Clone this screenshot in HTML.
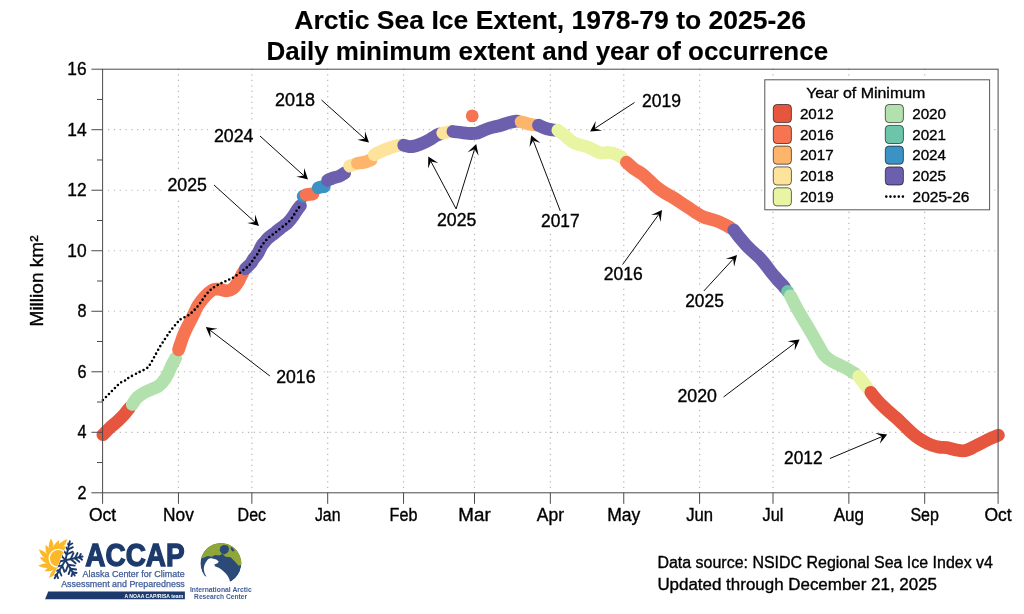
<!DOCTYPE html>
<html lang="en"><head><meta charset="utf-8"><title>Arctic Sea Ice Extent</title>
<style>html,body{margin:0;padding:0;background:#fff}svg{display:block}text{font-family:"Liberation Sans", sans-serif;fill:#000;stroke:#000;stroke-width:0.35px}.ttl text{stroke-width:0.12px}</style>
</head><body>
<svg width="1024" height="614" viewBox="0 0 1024 614">
<rect width="1024" height="614" fill="#fff"/>
<g class="ttl" font-weight="bold" font-size="25.5px" text-anchor="middle">
<text x="550.1" y="29.4" textLength="511.6" lengthAdjust="spacingAndGlyphs">Arctic Sea Ice Extent, 1978-79 to 2025-26</text>
<text x="547.3" y="60.4" textLength="561.6" lengthAdjust="spacingAndGlyphs">Daily minimum extent and year of occurrence</text>
</g>
<g stroke="#b6b6b6" stroke-width="1.2" fill="none">
<line x1="108" x2="998.1" y1="432.29" y2="432.29" stroke-dasharray="1.2 4.6307"/>
<line x1="108" x2="998.1" y1="371.77" y2="371.77" stroke-dasharray="1.2 4.6307"/>
<line x1="108" x2="998.1" y1="311.26" y2="311.26" stroke-dasharray="1.2 4.6307"/>
<line x1="108" x2="998.1" y1="250.74" y2="250.74" stroke-dasharray="1.2 4.6307"/>
<line x1="108" x2="998.1" y1="190.23" y2="190.23" stroke-dasharray="1.2 4.6307"/>
<line x1="108" x2="998.1" y1="129.71" y2="129.71" stroke-dasharray="1.2 4.6307"/>
<line x1="178.45" x2="178.45" y1="68.71" y2="492.8" stroke-dasharray="1.2 4.3"/>
<line x1="251.85" x2="251.85" y1="68.71" y2="492.8" stroke-dasharray="1.2 4.3"/>
<line x1="327.70" x2="327.70" y1="68.71" y2="492.8" stroke-dasharray="1.2 4.3"/>
<line x1="403.55" x2="403.55" y1="68.71" y2="492.8" stroke-dasharray="1.2 4.3"/>
<line x1="474.50" x2="474.50" y1="68.71" y2="492.8" stroke-dasharray="1.2 4.3"/>
<line x1="550.35" x2="550.35" y1="68.71" y2="492.8" stroke-dasharray="1.2 4.3"/>
<line x1="623.75" x2="623.75" y1="68.71" y2="492.8" stroke-dasharray="1.2 4.3"/>
<line x1="699.60" x2="699.60" y1="68.71" y2="492.8" stroke-dasharray="1.2 4.3"/>
<line x1="773.00" x2="773.00" y1="68.71" y2="492.8" stroke-dasharray="1.2 4.3"/>
<line x1="848.85" x2="848.85" y1="68.71" y2="492.8" stroke-dasharray="1.2 4.3"/>
<line x1="924.70" x2="924.70" y1="68.71" y2="492.8" stroke-dasharray="1.2 4.3"/>
</g>
<g fill="none" stroke-width="12.8" stroke-linecap="round" stroke-linejoin="round">
<path stroke="#E6563F" d="M102.9 434.7C104.1 433.6 107.3 430.2 109.8 427.9C112.2 425.6 115.2 423.4 117.6 421.1C120.0 418.8 122.4 416.4 124.4 414.2C126.4 412.0 128.7 408.8 129.6 407.7"/>
<path stroke="#B3E1AD" d="M132.3 404.4C133.1 403.3 135.2 399.6 137.1 397.6C139.0 395.7 141.4 394.2 144.0 392.7C146.6 391.2 150.5 389.9 152.8 388.8C155.1 387.7 156.5 387.3 158.0 386.3C159.5 385.3 160.8 384.2 162.0 382.8C163.2 381.4 164.4 379.9 165.5 378.2C166.6 376.5 167.6 374.7 168.5 372.8C169.4 370.9 170.2 368.7 171.0 366.9C171.8 365.1 172.7 363.5 173.5 362.0C174.3 360.5 175.2 358.8 175.6 358.1"/>
<path stroke="#F67452" d="M178.5 349.8C178.9 348.5 180.2 344.5 181.1 342.0C182.0 339.5 182.6 337.3 183.7 334.7C184.8 332.1 186.4 328.8 187.5 326.5C188.6 324.2 189.3 323.2 190.4 321.0C191.5 318.8 192.9 315.9 194.2 313.2C195.5 310.5 196.5 307.8 198.3 305.0C200.1 302.2 202.8 298.7 205.2 296.2C207.6 293.7 210.6 290.9 213.0 289.8C215.4 288.7 217.6 289.1 219.9 289.3C222.2 289.5 224.6 290.9 226.7 290.8C228.8 290.7 230.6 290.4 232.6 288.8C234.6 287.2 236.9 283.9 238.4 281.5C239.9 279.1 241.0 276.2 241.8 274.7C242.6 273.2 242.8 272.9 243.0 272.5"/>
<path stroke="#6C5FAE" d="M245.3 268.8C245.8 268.4 247.0 267.3 248.0 266.3C249.0 265.3 250.2 264.1 251.1 263.0C252.0 261.9 252.4 260.5 253.2 259.4C253.9 258.3 254.8 257.6 255.6 256.5C256.4 255.4 257.4 254.2 258.1 253.0C258.8 251.8 259.4 250.4 260.0 249.1C260.6 247.8 261.2 246.5 262.0 245.3C262.8 244.1 263.8 243.1 264.7 242.0C265.6 240.9 266.4 239.8 267.4 238.8C268.4 237.8 269.5 236.9 270.6 236.0C271.7 235.1 273.1 234.4 274.2 233.5C275.3 232.6 276.3 231.7 277.4 230.8C278.5 229.9 279.5 229.1 280.6 228.2C281.7 227.3 283.0 226.5 284.1 225.6C285.2 224.7 286.4 224.0 287.5 223.0C288.6 222.0 289.5 220.9 290.4 219.8C291.3 218.7 292.3 217.5 293.1 216.3C293.9 215.1 294.5 213.9 295.3 212.7C296.1 211.5 296.9 210.3 297.7 209.1C298.5 207.9 299.9 206.3 300.4 205.7"/>
<circle cx="303.2" cy="196.2" r="6.40" fill="#3A93C4" stroke="none"/>
<path stroke="#F67452" d="M306.1 194.6 L313.0 194.0"/>
<path stroke="#3A93C4" d="M318.3 187.8C318.8 187.7 320.0 187.2 321.0 187.0C322.0 186.8 323.7 186.7 324.2 186.6"/>
<path stroke="#6C5FAE" d="M327.6 180.3C328.5 179.9 331.1 178.6 333.0 177.9C334.9 177.2 336.9 177.2 338.9 176.4C340.8 175.6 343.7 173.6 344.7 173.0"/>
<path stroke="#FEE49A" d="M349.6 166.1 L352.5 165.0"/>
<path stroke="#FDB56C" d="M357.4 163.2C358.5 163.0 362.0 162.8 364.3 162.2C366.6 161.6 370.0 160.2 371.1 159.8"/>
<path stroke="#FEE49A" d="M374.3 154.8C374.9 154.5 376.6 153.5 378.0 152.8C379.4 152.1 380.6 151.5 382.7 150.6C384.8 149.7 388.2 148.4 390.5 147.6C392.8 146.8 394.7 146.1 396.4 145.7C398.1 145.3 399.8 145.3 400.5 145.2"/>
<path stroke="#6C5FAE" d="M403.7 145.2C404.6 145.4 407.1 146.6 409.1 146.7C411.1 146.8 413.6 146.3 415.9 145.7C418.2 145.1 420.5 144.2 422.8 143.2C425.1 142.2 427.5 141.0 429.6 139.8C431.7 138.6 433.9 136.9 435.5 135.9C437.1 134.9 438.8 134.3 439.5 134.0"/>
<path stroke="#FEE49A" d="M442.8 133.0 L450.0 131.8"/>
<path stroke="#6C5FAE" d="M453.0 131.5C454.3 131.7 458.7 132.2 460.9 132.5C463.1 132.8 464.5 133.0 466.0 133.2C467.5 133.4 467.9 133.5 469.8 133.5C471.7 133.5 475.0 133.7 477.6 133.0C480.2 132.3 482.8 130.6 485.4 129.6C488.0 128.6 490.6 127.8 493.2 127.1C495.8 126.4 498.5 125.9 501.1 125.2C503.7 124.5 506.6 123.4 508.9 122.7C511.2 122.0 513.3 121.5 514.7 121.3C516.1 121.0 517.0 121.2 517.5 121.2"/>
<circle cx="472.2" cy="115.9" r="6.40" fill="#F67452" stroke="none"/>
<path stroke="#FDB56C" d="M521.1 121.8C521.8 122.0 523.6 122.5 525.1 122.9C526.6 123.3 528.4 123.9 530.0 124.2C531.6 124.5 534.2 124.9 535.0 125.0"/>
<path stroke="#6C5FAE" d="M538.5 125.2C539.6 125.7 542.9 127.4 545.0 128.1C547.1 128.8 549.3 129.3 550.9 129.6C552.5 129.9 553.9 130.0 554.5 130.1"/>
<path stroke="#E9F5A2" d="M557.8 130.2C558.9 131.1 562.4 133.6 564.7 135.4C567.0 137.2 569.1 139.8 571.5 141.3C573.9 142.9 576.7 143.8 579.3 144.7C581.9 145.6 584.6 145.8 587.1 146.7C589.6 147.6 591.7 149.0 594.0 150.1C596.3 151.2 598.3 152.6 600.8 153.0C603.2 153.4 606.1 152.2 608.7 152.5C611.3 152.8 614.2 153.6 616.5 154.5C618.8 155.4 621.3 157.3 622.3 157.9"/>
<path stroke="#F67452" d="M626.4 162.2C627.6 163.3 631.2 166.7 633.7 168.6C636.2 170.5 638.9 171.6 641.5 173.5C644.1 175.4 646.7 178.0 649.3 180.3C651.9 182.7 654.5 185.5 657.1 187.6C659.7 189.7 662.4 191.4 665.0 193.0C667.6 194.6 670.2 195.9 672.8 197.4C675.3 198.9 677.8 200.5 680.3 202.2C682.8 203.9 685.5 205.7 688.1 207.4C690.7 209.1 693.0 210.9 695.6 212.5C698.2 214.1 700.9 215.9 703.5 217.0C706.1 218.1 708.7 218.5 711.3 219.3C713.9 220.1 716.7 220.8 719.1 221.8C721.5 222.8 724.0 224.2 725.9 225.2C727.8 226.2 729.7 227.4 730.5 227.8"/>
<path stroke="#6C5FAE" d="M733.8 230.1C734.6 231.2 736.8 234.2 738.8 236.6C740.8 239.0 743.3 242.1 745.6 244.6C747.9 247.1 750.2 249.2 752.5 251.4C754.8 253.6 757.2 255.3 759.3 257.5C761.4 259.6 763.2 261.9 765.2 264.3C767.2 266.7 769.2 269.7 771.1 272.1C773.0 274.6 775.0 276.8 776.9 279.0C778.8 281.2 781.5 283.8 782.8 285.3C784.1 286.8 784.5 287.4 784.8 287.8"/>
<circle cx="787.6" cy="291.5" r="6.40" fill="#6DC5A9" stroke="none"/>
<path stroke="#B3E1AD" d="M790.4 295.8C791.2 297.4 793.8 302.4 795.4 305.5C797.0 308.6 798.5 311.2 800.3 314.3C802.1 317.4 804.2 320.7 806.2 324.1C808.2 327.5 810.3 331.1 812.3 334.6C814.3 338.1 816.4 341.8 818.4 345.2C820.4 348.6 822.2 352.7 824.4 355.3C826.5 357.9 828.8 359.3 831.3 360.9C833.8 362.5 836.7 363.6 839.1 364.8C841.5 366.0 843.8 367.1 845.9 368.2C848.0 369.3 850.3 370.8 851.8 371.7C853.3 372.6 854.5 373.2 855.0 373.5"/>
<path stroke="#E9F5A2" d="M858.7 376.5C859.5 377.6 862.1 381.1 863.5 382.9C864.9 384.7 866.4 386.7 867.0 387.5"/>
<path stroke="#E6563F" d="M870.8 392.4C871.9 393.8 875.0 397.9 877.4 400.5C879.8 403.1 882.6 405.9 885.2 408.3C887.8 410.8 890.5 412.9 893.0 415.2C895.5 417.4 897.9 419.4 900.4 421.8C902.9 424.2 905.6 427.1 908.2 429.5C910.8 431.9 913.4 434.4 916.0 436.4C918.6 438.4 921.2 440.0 923.7 441.4C926.2 442.8 928.7 444.1 931.3 445.0C933.9 445.9 936.5 446.7 939.1 447.1C941.7 447.6 944.3 447.3 946.9 447.7C949.5 448.1 952.1 449.1 954.7 449.6C957.3 450.1 960.3 450.9 962.6 450.9C964.9 450.9 966.5 450.3 968.4 449.6C970.3 448.9 972.0 447.9 974.3 446.7C976.6 445.5 979.5 444.0 982.1 442.7C984.7 441.4 987.5 439.9 989.9 438.8C992.3 437.7 995.4 436.5 996.8 435.9C998.2 435.3 998.1 435.3 998.4 435.2"/>
</g>
<path fill="none" stroke="#000" stroke-width="2.6" stroke-linecap="round" stroke-linejoin="round" stroke-dasharray="0 4.25" d="M102.9 400.0C103.4 399.5 105.0 398.0 106.0 397.0C107.0 396.0 108.0 395.0 109.0 394.0C110.0 393.0 111.0 391.9 112.0 390.9C113.0 389.9 114.0 388.9 115.0 387.9C116.0 386.9 117.0 385.8 118.1 384.8C119.2 383.8 120.2 382.8 121.4 382.1C122.6 381.4 123.8 381.3 125.1 380.5C126.4 379.7 126.8 378.9 129.1 377.5C131.4 376.1 136.0 373.8 138.9 372.3C141.8 370.8 144.8 369.6 146.7 368.3C148.5 367.0 148.7 366.5 150.0 364.5C151.3 362.5 152.9 359.4 154.5 356.5C156.1 353.6 158.1 349.8 159.8 346.9C161.6 344.0 163.3 341.6 165.0 339.0C166.7 336.4 168.5 333.6 170.0 331.5C171.5 329.4 172.6 328.2 174.0 326.5C175.4 324.8 177.1 322.8 178.3 321.5C179.6 320.2 179.7 319.8 181.5 318.7C183.3 317.6 186.8 316.3 189.1 314.7C191.4 313.1 193.4 311.0 195.4 308.9C197.4 306.8 199.1 304.5 200.8 302.2C202.5 299.9 203.9 297.4 205.7 295.2C207.5 293.0 209.3 290.8 211.5 289.0C213.7 287.2 216.4 285.8 218.9 284.4C221.4 283.0 224.2 281.9 226.7 280.7C229.2 279.5 231.6 278.6 234.0 277.1C236.4 275.6 238.8 273.6 241.1 271.9C243.4 270.1 246.0 268.1 247.7 266.6C249.4 265.1 250.2 264.2 251.1 263.0C252.0 261.8 252.4 260.5 253.2 259.4C253.9 258.3 254.8 257.6 255.6 256.5C256.4 255.4 257.4 254.2 258.1 253.0C258.8 251.8 259.4 250.4 260.0 249.1C260.6 247.8 261.2 246.5 262.0 245.3C262.8 244.1 263.8 243.1 264.7 242.0C265.6 240.9 266.4 239.8 267.4 238.8C268.4 237.8 269.5 236.9 270.6 236.0C271.7 235.1 273.1 234.4 274.2 233.5C275.3 232.6 276.3 231.7 277.4 230.8C278.5 229.9 279.5 229.1 280.6 228.2C281.7 227.3 283.0 226.5 284.1 225.6C285.2 224.7 286.4 224.0 287.5 223.0C288.6 222.0 289.5 220.9 290.4 219.8C291.3 218.7 292.3 217.5 293.1 216.3C293.9 215.1 294.5 213.9 295.3 212.7C296.1 211.5 296.8 210.3 297.7 209.1C298.6 207.9 300.1 206.1 300.6 205.5"/>
<g stroke="#4a4a4a" stroke-width="1" fill="none">
<rect x="102.6" y="69.2" width="895.5" height="423.6"/>
<line x1="91.4" x2="102.6" y1="492.80" y2="492.80"/>
<line x1="97.0" x2="102.6" y1="462.54" y2="462.54"/>
<line x1="91.4" x2="102.6" y1="432.29" y2="432.29"/>
<line x1="97.0" x2="102.6" y1="402.03" y2="402.03"/>
<line x1="91.4" x2="102.6" y1="371.77" y2="371.77"/>
<line x1="97.0" x2="102.6" y1="341.51" y2="341.51"/>
<line x1="91.4" x2="102.6" y1="311.26" y2="311.26"/>
<line x1="97.0" x2="102.6" y1="281.00" y2="281.00"/>
<line x1="91.4" x2="102.6" y1="250.74" y2="250.74"/>
<line x1="97.0" x2="102.6" y1="220.49" y2="220.49"/>
<line x1="91.4" x2="102.6" y1="190.23" y2="190.23"/>
<line x1="97.0" x2="102.6" y1="159.97" y2="159.97"/>
<line x1="91.4" x2="102.6" y1="129.71" y2="129.71"/>
<line x1="97.0" x2="102.6" y1="99.46" y2="99.46"/>
<line x1="91.4" x2="102.6" y1="69.20" y2="69.20"/>
<line x1="102.60" x2="102.60" y1="492.8" y2="503.8"/>
<line x1="178.45" x2="178.45" y1="492.8" y2="503.8"/>
<line x1="251.85" x2="251.85" y1="492.8" y2="503.8"/>
<line x1="327.70" x2="327.70" y1="492.8" y2="503.8"/>
<line x1="403.55" x2="403.55" y1="492.8" y2="503.8"/>
<line x1="474.50" x2="474.50" y1="492.8" y2="503.8"/>
<line x1="550.35" x2="550.35" y1="492.8" y2="503.8"/>
<line x1="623.75" x2="623.75" y1="492.8" y2="503.8"/>
<line x1="699.60" x2="699.60" y1="492.8" y2="503.8"/>
<line x1="773.00" x2="773.00" y1="492.8" y2="503.8"/>
<line x1="848.85" x2="848.85" y1="492.8" y2="503.8"/>
<line x1="924.70" x2="924.70" y1="492.8" y2="503.8"/>
<line x1="998.10" x2="998.10" y1="492.8" y2="503.8"/>
</g>
<g font-size="17.8px" text-anchor="end">
<text x="86.6" y="498.7" textLength="9.0" lengthAdjust="spacingAndGlyphs">2</text>
<text x="86.6" y="438.2" textLength="9.0" lengthAdjust="spacingAndGlyphs">4</text>
<text x="86.6" y="377.7" textLength="9.0" lengthAdjust="spacingAndGlyphs">6</text>
<text x="86.6" y="317.2" textLength="9.0" lengthAdjust="spacingAndGlyphs">8</text>
<text x="86.6" y="256.6" textLength="19.3" lengthAdjust="spacingAndGlyphs">10</text>
<text x="86.6" y="196.1" textLength="19.3" lengthAdjust="spacingAndGlyphs">12</text>
<text x="86.6" y="135.6" textLength="19.3" lengthAdjust="spacingAndGlyphs">14</text>
<text x="86.6" y="75.1" textLength="19.3" lengthAdjust="spacingAndGlyphs">16</text>
</g>
<g font-size="17.5px" text-anchor="middle">
<text x="102.6" y="520.5" textLength="27.2" lengthAdjust="spacingAndGlyphs">Oct</text>
<text x="178.4" y="520.5" textLength="30.8" lengthAdjust="spacingAndGlyphs">Nov</text>
<text x="251.8" y="520.5" textLength="28.4" lengthAdjust="spacingAndGlyphs">Dec</text>
<text x="327.7" y="520.5" textLength="25.5" lengthAdjust="spacingAndGlyphs">Jan</text>
<text x="403.5" y="520.5" textLength="27.8" lengthAdjust="spacingAndGlyphs">Feb</text>
<text x="474.5" y="520.5" textLength="32.3" lengthAdjust="spacingAndGlyphs">Mar</text>
<text x="550.4" y="520.5" textLength="27.2" lengthAdjust="spacingAndGlyphs">Apr</text>
<text x="623.8" y="520.5" textLength="33.1" lengthAdjust="spacingAndGlyphs">May</text>
<text x="699.6" y="520.5" textLength="26.9" lengthAdjust="spacingAndGlyphs">Jun</text>
<text x="773.0" y="520.5" textLength="20.8" lengthAdjust="spacingAndGlyphs">Jul</text>
<text x="848.9" y="520.5" textLength="30.3" lengthAdjust="spacingAndGlyphs">Aug</text>
<text x="924.7" y="520.5" textLength="28.5" lengthAdjust="spacingAndGlyphs">Sep</text>
<text x="998.1" y="520.5" textLength="27.2" lengthAdjust="spacingAndGlyphs">Oct</text>
</g>
<text font-size="17.5px" text-anchor="middle" transform="translate(43.2 281) rotate(-90)" textLength="91" lengthAdjust="spacingAndGlyphs">Million km²</text>
<g fill="#fff">
<rect x="269.0" y="87.6" width="52.0" height="24.0"/>
<rect x="208.0" y="123.7" width="51.5" height="24.0"/>
<rect x="161.5" y="173.0" width="51.5" height="24.0"/>
<rect x="431.0" y="207.8" width="51.3" height="24.0"/>
<rect x="636.0" y="88.8" width="51.0" height="24.0"/>
<rect x="535.0" y="208.5" width="50.6" height="24.0"/>
<rect x="597.8" y="262.4" width="51.0" height="24.0"/>
<rect x="679.2" y="288.6" width="50.6" height="24.0"/>
<rect x="270.2" y="364.6" width="51.3" height="24.0"/>
<rect x="671.4" y="384.3" width="51.5" height="24.0"/>
<rect x="778.0" y="446.4" width="50.6" height="24.0"/>
</g>
<g>
<line x1="321.5" y1="100.0" x2="364.8" y2="138.8" stroke="#000" stroke-width="0.95"/><path d="M369.0 142.5Q363.2 141.2 357.3 139.8L364.8 138.8L365.0 131.2Q367.0 136.8 369.0 142.5Z" fill="#000"/>
<line x1="260.0" y1="136.0" x2="303.8" y2="175.6" stroke="#000" stroke-width="0.95"/><path d="M308.0 179.4Q302.2 178.0 296.3 176.7L303.8 175.6L304.1 168.1Q306.1 173.7 308.0 179.4Z" fill="#000"/>
<line x1="214.0" y1="185.0" x2="254.9" y2="222.1" stroke="#000" stroke-width="0.95"/><path d="M259.0 225.9Q253.2 224.5 247.3 223.1L254.9 222.1L255.1 214.5Q257.1 220.2 259.0 225.9Z" fill="#000"/>
<line x1="456.1" y1="208.9" x2="430.9" y2="161.4" stroke="#000" stroke-width="0.95"/><path d="M428.3 156.5Q433.3 159.8 438.3 163.1L430.9 161.4L428.1 168.5Q428.2 162.5 428.3 156.5Z" fill="#000"/>
<line x1="456.1" y1="208.9" x2="474.5" y2="149.3" stroke="#000" stroke-width="0.95"/><path d="M476.2 144.0Q477.4 149.9 478.6 155.7L474.5 149.3L467.6 152.3Q471.9 148.2 476.2 144.0Z" fill="#000"/>
<line x1="634.5" y1="102.5" x2="594.8" y2="128.4" stroke="#000" stroke-width="0.95"/><path d="M590.1 131.5Q592.9 126.2 595.7 120.9L594.8 128.4L602.1 130.6Q596.1 131.1 590.1 131.5Z" fill="#000"/>
<line x1="560.3" y1="211.0" x2="533.2" y2="140.4" stroke="#000" stroke-width="0.95"/><path d="M531.2 135.2Q535.8 139.1 540.4 142.9L533.2 140.4L529.5 147.1Q530.4 141.1 531.2 135.2Z" fill="#000"/>
<line x1="622.6" y1="264.5" x2="658.7" y2="214.5" stroke="#000" stroke-width="0.95"/><path d="M662.0 210.0Q661.3 216.0 660.5 221.9L658.7 214.5L651.1 215.1Q656.6 212.6 662.0 210.0Z" fill="#000"/>
<line x1="703.8" y1="291.0" x2="733.2" y2="259.1" stroke="#000" stroke-width="0.95"/><path d="M737.0 255.0Q735.6 260.8 734.1 266.7L733.2 259.1L725.6 258.8Q731.3 256.9 737.0 255.0Z" fill="#000"/>
<line x1="269.9" y1="376.0" x2="210.2" y2="330.3" stroke="#000" stroke-width="0.95"/><path d="M205.8 326.9Q211.7 327.8 217.7 328.7L210.2 330.3L210.6 337.9Q208.2 332.4 205.8 326.9Z" fill="#000"/>
<line x1="723.5" y1="397.0" x2="795.1" y2="342.9" stroke="#000" stroke-width="0.95"/><path d="M799.6 339.5Q797.2 345.0 794.7 350.5L795.1 342.9L787.7 341.2Q793.7 340.4 799.6 339.5Z" fill="#000"/>
<line x1="829.9" y1="458.5" x2="882.0" y2="436.6" stroke="#000" stroke-width="0.95"/><path d="M887.2 434.4Q883.5 439.1 879.8 443.8L882.0 436.6L875.3 433.1Q881.2 433.8 887.2 434.4Z" fill="#000"/>
</g>
<g font-size="17.5px">
<text x="275.0" y="105.6" textLength="40.0" lengthAdjust="spacingAndGlyphs">2018</text>
<text x="214.0" y="141.7" textLength="39.5" lengthAdjust="spacingAndGlyphs">2024</text>
<text x="167.5" y="191.0" textLength="39.5" lengthAdjust="spacingAndGlyphs">2025</text>
<text x="437.0" y="225.8" textLength="39.3" lengthAdjust="spacingAndGlyphs">2025</text>
<text x="642.0" y="106.8" textLength="39.0" lengthAdjust="spacingAndGlyphs">2019</text>
<text x="541.0" y="226.5" textLength="38.6" lengthAdjust="spacingAndGlyphs">2017</text>
<text x="603.8" y="280.4" textLength="39.0" lengthAdjust="spacingAndGlyphs">2016</text>
<text x="685.2" y="306.6" textLength="38.6" lengthAdjust="spacingAndGlyphs">2025</text>
<text x="276.2" y="382.6" textLength="39.3" lengthAdjust="spacingAndGlyphs">2016</text>
<text x="677.4" y="402.3" textLength="39.5" lengthAdjust="spacingAndGlyphs">2020</text>
<text x="784.0" y="464.4" textLength="38.6" lengthAdjust="spacingAndGlyphs">2012</text>
</g>
<rect x="764.8" y="79.8" width="224.8" height="130" fill="#fff" stroke="#555" stroke-width="1"/>
<text x="806.2" y="98.1" font-size="15.5px" textLength="119.2" lengthAdjust="spacingAndGlyphs">Year of Minimum</text>
<g font-size="15.5px">
<rect x="773.3" y="104.5" width="18.1" height="18.1" rx="3.6" fill="#E6563F" stroke="rgba(0,0,0,0.6)" stroke-width="1"/>
<text x="799.9" y="118.7" textLength="33.8" lengthAdjust="spacingAndGlyphs">2012</text>
<rect x="773.3" y="125.4" width="18.1" height="18.1" rx="3.6" fill="#F67452" stroke="rgba(0,0,0,0.6)" stroke-width="1"/>
<text x="799.9" y="139.5" textLength="33.8" lengthAdjust="spacingAndGlyphs">2016</text>
<rect x="773.3" y="146.1" width="18.1" height="18.1" rx="3.6" fill="#FDB56C" stroke="rgba(0,0,0,0.6)" stroke-width="1"/>
<text x="799.9" y="160.3" textLength="33.8" lengthAdjust="spacingAndGlyphs">2017</text>
<rect x="773.3" y="166.9" width="18.1" height="18.1" rx="3.6" fill="#FEE49A" stroke="rgba(0,0,0,0.6)" stroke-width="1"/>
<text x="799.9" y="181.1" textLength="33.8" lengthAdjust="spacingAndGlyphs">2018</text>
<rect x="773.3" y="187.8" width="18.1" height="18.1" rx="3.6" fill="#E9F5A2" stroke="rgba(0,0,0,0.6)" stroke-width="1"/>
<text x="799.9" y="201.9" textLength="33.8" lengthAdjust="spacingAndGlyphs">2019</text>
<rect x="885.3" y="104.5" width="18.1" height="18.1" rx="3.6" fill="#B3E1AD" stroke="rgba(0,0,0,0.6)" stroke-width="1"/>
<text x="912.2" y="118.7" textLength="33.8" lengthAdjust="spacingAndGlyphs">2020</text>
<rect x="885.3" y="125.4" width="18.1" height="18.1" rx="3.6" fill="#6DC5A9" stroke="rgba(0,0,0,0.6)" stroke-width="1"/>
<text x="912.2" y="139.5" textLength="33.8" lengthAdjust="spacingAndGlyphs">2021</text>
<rect x="885.3" y="146.1" width="18.1" height="18.1" rx="3.6" fill="#3A93C4" stroke="rgba(0,0,0,0.6)" stroke-width="1"/>
<text x="912.2" y="160.3" textLength="33.8" lengthAdjust="spacingAndGlyphs">2024</text>
<rect x="885.3" y="166.9" width="18.1" height="18.1" rx="3.6" fill="#6C5FAE" stroke="rgba(0,0,0,0.6)" stroke-width="1"/>
<text x="912.2" y="181.1" textLength="33.8" lengthAdjust="spacingAndGlyphs">2025</text>
<line x1="886.3" x2="904" y1="196.6" y2="196.6" stroke="#000" stroke-width="2.6" stroke-linecap="round" stroke-dasharray="0 4.15"/>
<text x="912.6" y="201.9" textLength="56.8" lengthAdjust="spacingAndGlyphs">2025-26</text>
</g>
<g font-size="16px">
<text x="657.4" y="567.7" textLength="335.6" lengthAdjust="spacingAndGlyphs">Data source: NSIDC Regional Sea Ice Index v4</text>
<text x="657.4" y="589.8" textLength="279.6" lengthAdjust="spacingAndGlyphs">Updated through December 21, 2025</text>
</g>
<g id="logos">
<defs>
<clipPath id="cs"><polygon points="30,530 72.3,530 47.9,590 30,590"/></clipPath>
<clipPath id="cf"><polygon points="72.9,530 100,530 100,590 48.5,590"/></clipPath>
<clipPath id="cg"><circle cx="220.9" cy="563.5" r="20.5"/></clipPath>
</defs>
<g clip-path="url(#cs)" fill="#FCB826">
<circle cx="58.2" cy="558.4" r="8.3"/>
<circle cx="58.2" cy="558.4" r="10.7" fill="none" stroke="#FCB826" stroke-width="2.0"/>
<path d="M69.1 557.5Q74.4 558.7 77.7 567.6Q72.3 566.3 68.4 562.2Z"/>
<path d="M68.6 561.8Q71.7 564.3 70.7 572.1Q67.3 569.9 66.2 565.8Z"/>
<path d="M66.5 565.5Q69.4 570.1 65.5 578.6Q62.6 574.0 62.7 568.3Z"/>
<path d="M63.1 568.1Q63.6 572.1 57.3 576.9Q56.5 573.0 58.6 569.3Z"/>
<path d="M59.1 569.3Q57.9 574.6 49.0 577.9Q50.3 572.5 54.4 568.6Z"/>
<path d="M54.8 568.8Q52.3 571.9 44.5 570.9Q46.7 567.5 50.8 566.4Z"/>
<path d="M51.1 566.7Q46.5 569.6 38.0 565.7Q42.6 562.8 48.3 562.9Z"/>
<path d="M48.5 563.3Q44.5 563.8 39.7 557.5Q43.6 556.7 47.3 558.8Z"/>
<path d="M47.3 559.3Q42.0 558.1 38.7 549.2Q44.1 550.5 48.0 554.6Z"/>
<path d="M47.8 555.0Q44.7 552.5 45.7 544.7Q49.1 546.9 50.2 551.0Z"/>
<path d="M49.9 551.3Q47.0 546.7 50.9 538.2Q53.8 542.8 53.7 548.5Z"/>
<path d="M53.3 548.7Q52.8 544.7 59.1 539.9Q59.9 543.8 57.8 547.5Z"/>
<path d="M57.3 547.5Q58.5 542.2 67.4 538.9Q66.1 544.3 62.0 548.2Z"/>
<path d="M61.6 548.0Q64.1 544.9 71.9 545.9Q69.7 549.3 65.6 550.4Z"/>
<path d="M65.3 550.1Q69.9 547.2 78.4 551.1Q73.8 554.0 68.1 553.9Z"/>
<path d="M67.9 553.5Q71.9 553.0 76.7 559.3Q72.8 560.1 69.1 558.0Z"/>
</g>
<g clip-path="url(#cf)" stroke="#1D3A6C" stroke-width="1.9" stroke-linecap="round" fill="none">
<line x1="65.4" y1="560.2" x2="82.6" y2="556.5"/>
<line x1="70.6" y1="559.1" x2="73.5" y2="553.2"/>
<line x1="70.6" y1="559.1" x2="75.6" y2="563.3"/>
<line x1="75.0" y1="558.2" x2="77.5" y2="553.1"/>
<line x1="75.0" y1="558.2" x2="79.3" y2="561.8"/>
<line x1="79.2" y1="557.3" x2="80.8" y2="553.9"/>
<line x1="79.2" y1="557.3" x2="82.1" y2="559.7"/>
<line x1="65.4" y1="560.2" x2="69.8" y2="541.3"/>
<line x1="66.7" y1="554.5" x2="62.6" y2="549.4"/>
<line x1="66.7" y1="554.5" x2="72.7" y2="551.7"/>
<line x1="67.8" y1="549.6" x2="64.3" y2="545.3"/>
<line x1="67.8" y1="549.6" x2="72.9" y2="547.2"/>
<line x1="68.9" y1="545.1" x2="66.5" y2="542.1"/>
<line x1="68.9" y1="545.1" x2="72.3" y2="543.5"/>
<line x1="65.4" y1="560.2" x2="74.7" y2="575.6"/>
<line x1="68.2" y1="564.8" x2="74.7" y2="565.6"/>
<line x1="68.2" y1="564.8" x2="65.8" y2="571.0"/>
<line x1="70.6" y1="568.8" x2="76.1" y2="569.5"/>
<line x1="70.6" y1="568.8" x2="68.6" y2="574.1"/>
<line x1="72.8" y1="572.5" x2="76.6" y2="573.0"/>
<line x1="72.8" y1="572.5" x2="71.5" y2="576.1"/>
<line x1="65.4" y1="560.2" x2="54.6" y2="578.2"/>
<line x1="62.2" y1="565.6" x2="64.5" y2="571.8"/>
<line x1="62.2" y1="565.6" x2="55.6" y2="566.4"/>
<line x1="59.3" y1="570.3" x2="61.4" y2="575.5"/>
<line x1="59.3" y1="570.3" x2="53.8" y2="571.0"/>
<line x1="56.7" y1="574.6" x2="58.1" y2="578.1"/>
<line x1="56.7" y1="574.6" x2="53.0" y2="575.1"/>
<line x1="65.4" y1="560.2" x2="47.8" y2="563.9"/>
<line x1="60.1" y1="561.3" x2="57.2" y2="567.3"/>
<line x1="60.1" y1="561.3" x2="55.1" y2="557.1"/>
<line x1="55.5" y1="562.3" x2="53.1" y2="567.3"/>
<line x1="55.5" y1="562.3" x2="51.3" y2="558.7"/>
<line x1="51.3" y1="563.2" x2="49.6" y2="566.6"/>
<line x1="51.3" y1="563.2" x2="48.4" y2="560.8"/>
<line x1="65.4" y1="560.2" x2="53.4" y2="546.8"/>
<line x1="61.8" y1="556.2" x2="55.2" y2="556.6"/>
<line x1="61.8" y1="556.2" x2="62.9" y2="549.7"/>
<line x1="58.7" y1="552.7" x2="53.1" y2="553.1"/>
<line x1="58.7" y1="552.7" x2="59.6" y2="547.2"/>
<line x1="55.8" y1="549.5" x2="52.0" y2="549.8"/>
<line x1="55.8" y1="549.5" x2="56.4" y2="545.8"/>
</g>
<text x="85.3" y="565.7" font-size="30.6px" font-weight="bold" textLength="99.3" lengthAdjust="spacingAndGlyphs" style="fill:#1D3A6C;stroke:#1D3A6C;stroke-width:1.3px">ACCAP</text>
<text x="82.5" y="576.6" font-size="8.6px" textLength="102.2" lengthAdjust="spacingAndGlyphs" style="fill:#3F5C97;stroke:#3F5C97;stroke-width:0.25px">Alaska Center for Climate</text>
<text x="61.2" y="586.5" font-size="8.6px" textLength="123.6" lengthAdjust="spacingAndGlyphs" style="fill:#3F5C97;stroke:#3F5C97;stroke-width:0.25px">Assessment and Preparedness</text>
<polygon points="48.2,591.5 184.9,591.5 184.9,599.3 45.1,599.3" fill="#1D3A6C"/>
<text x="124.4" y="597.7" font-size="4.6px" font-weight="bold" textLength="58.8" lengthAdjust="spacingAndGlyphs" style="fill:#fff;stroke:none">A NOAA CAP/RISA team</text>
<g clip-path="url(#cg)">
<circle cx="220.9" cy="563.5" r="20.5" fill="#2C4A78"/>
<polygon fill="#8FA73A" points="195,558.6 200.9,558.4 204.9,557.2 207.8,556.1 211.8,556.7 215.2,554.9 219.2,555.5 222.6,553.8 225.5,556.7 230.6,557.2 235.1,561.8 238.6,565.8 241.1,564.9 250,560 250,535 195,535"/>
<polygon fill="#2C4A78" points="220.5,546.5 223.5,545 227.5,545.6 229,548.5 228.3,552 225,554.3 221.5,553.4 219.6,550.5"/>
<polygon fill="#2C4A78" points="230.5,547 233,548 234.5,551 232.5,551.5 231,549.5"/>
</g>
<path fill="#fff" d="M203.8 569.2C203.9 566 204.6 563.5 207.8 559.5C209.5 558.3 211 558.2 212.4 558.4L216.3 559.5L218.8 561.4L217.5 563.3L214.4 564.4L214.9 566.3C216.5 567.3 218 567.5 219.2 568C221 569 222.5 570.3 223.7 571.5C225.5 573 226.8 574.5 227.7 576C229 578 229.7 580 230 581.7L231 590L195 590L195 575L206.6 576.6C205 574.5 204 572 203.8 569.2Z"/>
<text x="189.9" y="592.1" font-size="6.4px" font-weight="bold" textLength="61.8" lengthAdjust="spacingAndGlyphs" style="fill:#3F5C97;stroke:none">International Arctic</text>
<text x="194.1" y="599.4" font-size="6.4px" font-weight="bold" textLength="53" lengthAdjust="spacingAndGlyphs" style="fill:#3F5C97;stroke:none">Research Center</text>
</g>
</svg></body></html>
